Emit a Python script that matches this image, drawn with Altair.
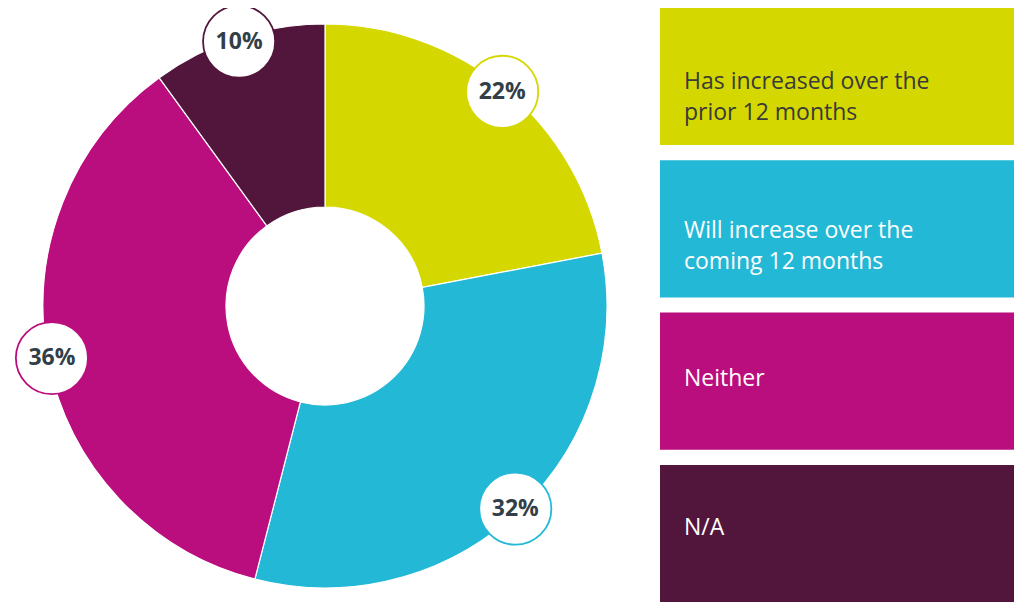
import altair as alt
import pandas as pd

# ---- data ----
categories = ["Has increased", "Will increase", "Neither", "N/A"]
values = [22, 32, 36, 10]
legend_labels = [
    "Has increased over the\nprior 12 months",
    "Will increase over the\ncoming 12 months",
    "Neither",
    "N/A",
]
palette = ["#d4d800", "#23b8d6", "#ba0e7e", "#52163c"]

df = pd.DataFrame({
    "cat": categories,
    "value": values,
    "legend": legend_labels,
    "idx": list(range(len(categories))),
})

W, H = 1006, 594
CX, CY = 317, 298
R_OUT, R_IN, R_LAB = 282, 99, 278

color_scale = alt.Scale(domain=categories, range=palette)

base = alt.Chart(df)

arcs = base.mark_arc(innerRadius=R_IN, outerRadius=R_OUT, stroke="white", strokeWidth=1.2).encode(
    theta=alt.Theta("value:Q", stack=True),
    color=alt.Color("cat:N", scale=color_scale, legend=None),
    order=alt.Order("idx:Q", sort="ascending"),
    x=alt.value(CX),
    y=alt.value(CY),
)

pos = base.transform_joinaggregate(
    total="sum(value)"
).transform_window(
    cum="sum(value)", sort=[alt.SortField("idx")], frame=[None, 0]
).transform_calculate(
    mid="(datum.cum - datum.value/2) / datum.total * 2 * PI",
).transform_calculate(
    px=f"{CX} + {R_LAB} * sin(datum.mid)",
    py=f"{CY} - {R_LAB} * cos(datum.mid)",
    pct="datum.value + '%'",
)

circles = pos.mark_circle(fill="white", opacity=1, size=5200, strokeWidth=1.8).encode(
    x=alt.X("px:Q", scale=None, axis=None),
    y=alt.Y("py:Q", scale=None, axis=None),
    stroke=alt.Stroke("cat:N", scale=color_scale, legend=None),
)

pct_text = pos.mark_text(
    font="Open Sans", fontWeight="bold", fontSize=23, color="#333f48",
    align="center", baseline="middle",
).encode(
    x=alt.X("px:Q", scale=None, axis=None),
    y=alt.Y("py:Q", scale=None, axis=None),
    text="pct:N",
)

band = alt.Scale(domain=categories, range=[0, H], paddingInner=0.1, paddingOuter=0)

leg_rect = base.mark_rect().encode(
    x=alt.value(652),
    x2=alt.value(W),
    y=alt.Y("cat:N", scale=band, axis=None),
    color=alt.Color("cat:N", scale=color_scale, legend=None),
)

leg_text = base.mark_text(
    font="Open Sans", fontSize=23, align="left", baseline="middle",
    lineBreak="\n", lineHeight=31,
).encode(
    x=alt.value(676),
    y=alt.Y("cat:N", scale=band, axis=None),
    text="legend:N",
    color=alt.condition(alt.datum.idx == 0, alt.value("#3a3a3a"), alt.value("white")),
)

chart = alt.layer(arcs, leg_rect, leg_text, circles, pct_text).resolve_scale(
    x="independent", y="independent"
).properties(
    width=W, height=H, padding=0, autosize=alt.AutoSizeParams(type="none"),
    background="white",
).configure_view(stroke=None)

chart.save("out.html", embed_options={"renderer": "svg", "actions": False})
